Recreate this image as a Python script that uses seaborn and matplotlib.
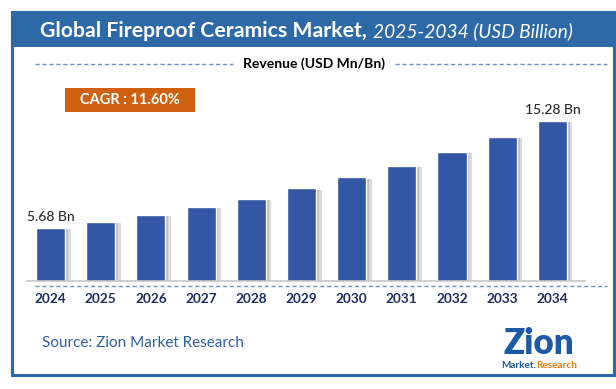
import matplotlib
matplotlib.use("Agg")
import matplotlib.pyplot as plt
import seaborn as sns
import pandas as pd
from matplotlib.patches import Rectangle
from matplotlib.lines import Line2D
from matplotlib import patheffects as pe

years = ["2024", "2025", "2026", "2027", "2028", "2029", "2030", "2031", "2032", "2033", "2034"]
revenue = [5.68, 6.19, 6.82, 7.57, 8.29, 9.23, 10.22, 11.23, 12.49, 13.84, 15.28]
value_labels = {0: "5.68 Bn", 10: "15.28 Bn"}
title_bold = "Global Fireproof Ceramics Market,"
title_ital = "2025-2034 (USD Billion)"
subtitle = "Revenue (USD Mn/Bn)"
cagr_text = "CAGR : 11.60%"
source_text = "Source: Zion Market Research"

sns.set_theme(style="white")
plt.rcParams["font.family"] = ["Lato", "DejaVu Sans"]

W, H = 616, 389
fig = plt.figure(figsize=(W / 100, H / 100), dpi=100)
fig.patch.set_facecolor("white")

def fx(px):
    return px / W

def fy(py):
    return 1 - py / H

BLUE = "#2e69a7"
BAR = "#3357a5"
NAVY = "#1f2e5e"
DASH = "#6f8fc6"

# frame and title band
fig.add_artist(Rectangle((fx(12), fy(375)), fx(614) - fx(12), fy(12) - fy(375),
                         transform=fig.transFigure, fill=False, edgecolor=BLUE, lw=2.2))
fig.add_artist(Rectangle((fx(12), fy(47)), fx(614) - fx(12), fy(12) - fy(47),
                         transform=fig.transFigure, facecolor=BLUE, edgecolor=BLUE, lw=0))

t1 = fig.text(fx(40), fy(31), title_bold, color="white", fontsize=15.3, fontweight="bold",
              ha="left", va="center")
fig.canvas.draw()
bb = t1.get_window_extent()
fig.text((bb.x1 + 6) / W, fy(31), title_ital, color="white", fontsize=13.8, fontstyle="italic",
         ha="left", va="center")

# subtitle with dashed lines
fig.text(fx(314), fy(64), subtitle, color="black", fontsize=10, fontweight="bold",
         ha="center", va="center")
fig.add_artist(Line2D([fx(35), fx(233)], [fy(64), fy(64)], transform=fig.transFigure,
                      color=DASH, lw=1, ls=(0, (3, 2))))
fig.add_artist(Line2D([fx(395), fx(607)], [fy(64), fy(64)], transform=fig.transFigure,
                      color=DASH, lw=1, ls=(0, (3, 2))))

# CAGR box
fig.add_artist(Rectangle((fx(65), fy(112)), fx(195) - fx(65), fy(88) - fy(112),
                         transform=fig.transFigure, facecolor="#d0600f", edgecolor="none"))
fig.text(fx(130), fy(100.5), cagr_text, color="white", fontsize=10.5, fontweight="bold",
         ha="center", va="center")

# bar axes
ax = fig.add_axes([fx(27), fy(281), fx(585) - fx(27), fy(100) - fy(281)])
df = pd.DataFrame({"year": years, "revenue": revenue})
sns.barplot(data=df, x="year", y="revenue", color=BAR, saturation=1, width=0.58, ax=ax)
for p in ax.patches:
    p.set_path_effects([pe.SimplePatchShadow(offset=(4, -1), shadow_rgbFace="#9a9a9a", alpha=0.35),
                        pe.SimplePatchShadow(offset=(2, -1), shadow_rgbFace="#8a8a8a", alpha=0.35),
                        pe.Normal()])
ax.set_xlim(-0.468, 10.65)
ax.set_ylim(0.88, 17.17)
ax.set_facecolor("none")
for s in ["top", "right", "left"]:
    ax.spines[s].set_visible(False)
ax.spines["bottom"].set_color("#c8c8c8")
ax.spines["bottom"].set_linewidth(1.2)
ax.set_yticks([])
ax.set_xlabel("")
ax.set_ylabel("")
ax.tick_params(axis="x", length=0, pad=8.5)
for lbl in ax.get_xticklabels():
    lbl.set_fontweight("bold")
    lbl.set_color(NAVY)
    lbl.set_fontsize(9.8)
for i, txt in value_labels.items():
    ax.text(i, revenue[i] + 0.45, txt, ha="center", va="bottom", fontsize=10, color="#2b2b2b",
            fontweight="medium")

fig.add_artist(Line2D([fx(35), fx(607)], [fy(286), fy(286)], transform=fig.transFigure,
                      color=DASH, lw=1, ls=(0, (3, 2))))

# source
fig.text(fx(42), fy(343), source_text, color="#2f5f9e", fontsize=11, ha="left", va="center")

# logo approximation
fig.text(fx(539), fy(343), "Zion", color="#1d5aa6", fontsize=25, fontweight="heavy",
         ha="center", va="center")
t2 = fig.text(fx(501), fy(366), "Market.", color="#1d5aa6", fontsize=7.2, fontweight="bold",
              ha="left", va="center")
fig.canvas.draw()
bb2 = t2.get_window_extent()
fig.text(bb2.x1 / W, fy(366), "Research", color="#e07b1a", fontsize=7.2, fontweight="bold",
         ha="left", va="center")

fig.savefig("out.png", dpi=100, facecolor="white")
